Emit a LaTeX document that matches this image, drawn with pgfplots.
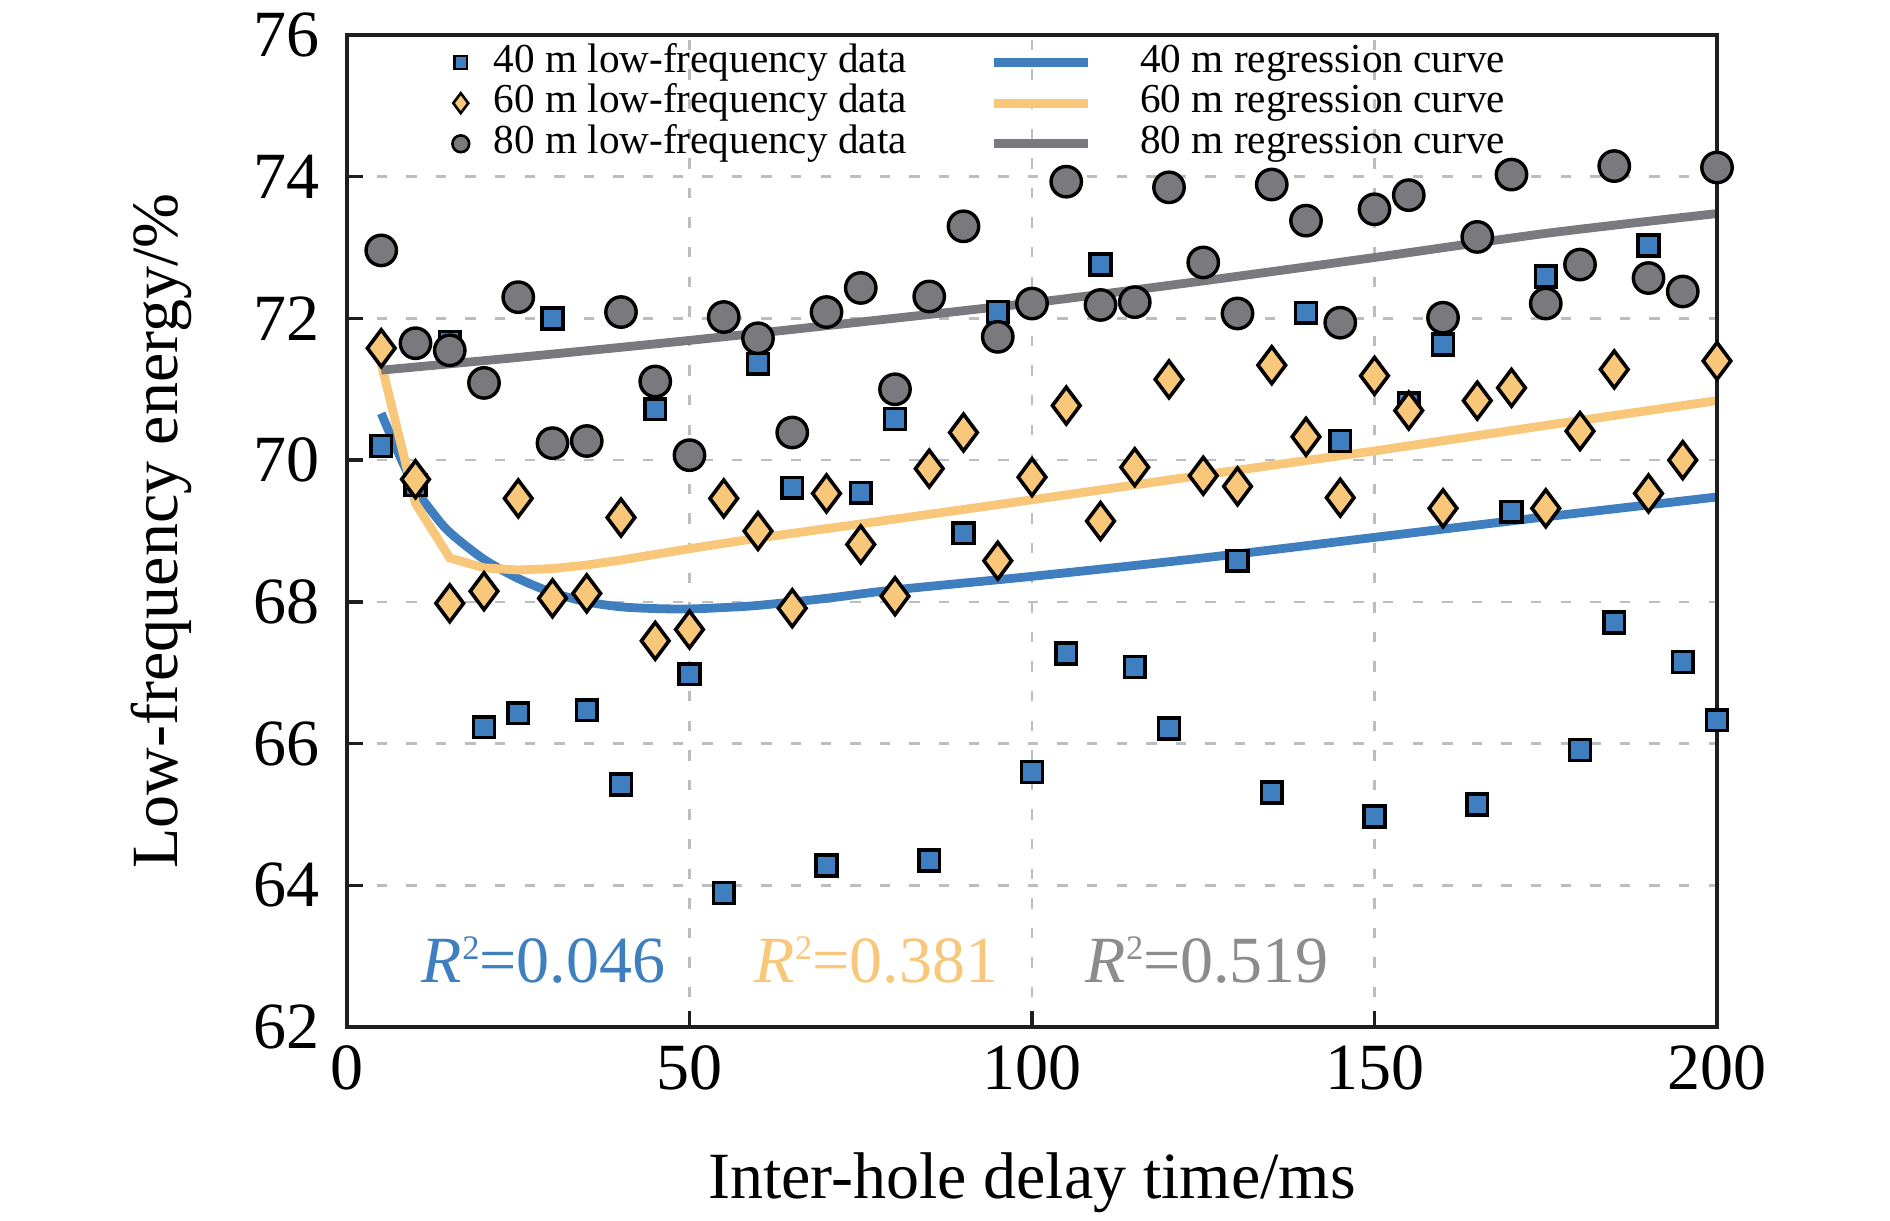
\documentclass[border=0pt]{standalone}
\usepackage{fontspec}
\setmainfont{Liberation Serif}
\usepackage{pgfplots}
\pgfplotsset{compat=1.18}
\definecolor{cblue}{HTML}{3F7FBF}
\definecolor{corange}{HTML}{F8C77A}
\definecolor{cgray}{HTML}{7A7A7E}
\definecolor{cgraytxt}{HTML}{8C8C8C}
\definecolor{cgrid}{HTML}{BDBDBD}
\definecolor{cframe}{HTML}{1E1E1E}
\pgfplotsset{
  markleg/.style={legend image code/.code={\draw[##1, /tikz/only marks] plot coordinates {(0pt,0pt)}; \path[draw=none, fill=none] (-3pt,0pt) -- (6.25pt,0pt);}},
  lineleg/.style={legend image code/.code={\draw[##1] (0pt,0pt) -- (23.5pt,0pt); \path[draw=none, fill=none] (23.5pt,0pt) -- (34.5pt,0pt);}},
}
\begin{document}
\begin{tikzpicture}
\begin{axis}[
  scale only axis, width=342.5pt, height=248pt,
  at={(0,0)}, anchor=south west,
  xmin=0, xmax=200, ymin=62, ymax=76,
  xtick={0,50,100,150,200}, ytick={62,64,66,68,70,72,74,76},
  clip=false,
  axis line style={cframe, line width=0.85pt},
  tick style={cframe, line width=0.85pt},
  major tick length=4pt,
  tick align=inside,
  tick pos=left,
  grid=major,
  major grid style={cgrid, line width=0.65pt, dash pattern=on 2.6pt off 4.8pt},
  /pgf/number format/assume math mode=true,
  tick label style={font=\fontsize{16.5}{19}\selectfont, text=black},
  yticklabel style={xshift=-3.25pt},
  xticklabel style={yshift=-1pt},
  xlabel={Inter-hole delay time/ms},
  ylabel={Low-frequency energy/\%},
  label style={font=\fontsize{16.5}{19}\selectfont},
  xlabel style={at={(axis description cs:0.5,-0.17238)}, anchor=base},
  ylabel style={at={(axis description cs:-0.12336,0.5)}, anchor=base},
  legend columns=2,
  legend cell align=left,
  legend style={draw=none, fill=none, inner sep=0pt,
    at={(axis description cs:0.07372,0.99153)}, anchor=north west,
    font=\fontsize{10.3}{12}\selectfont,
    nodes={inner xsep=2pt, inner ysep=0pt, text height=7pt, text depth=2.2pt},
    row sep=0.95pt,
    /tikz/every even column/.append style={column sep=18.7pt}},
]
% regression curves
\addplot[cblue, line width=2.2pt, smooth, forget plot] coordinates {
 (5,70.66) (7.5,70.1) (10,69.6) (12.5,69.26) (15,68.98) (20,68.6) (25,68.33)
 (30,68.13) (35,68.0) (40,67.93) (45,67.905) (50,67.9) (55,67.92) (60,67.95)
 (70,68.05) (80,68.17) (100,68.36) (125,68.62) (150,68.91) (175,69.2) (200,69.48)};
\addplot[corange, line width=2.2pt, forget plot] coordinates {
 (5,71.36) (10,69.39) (15,68.62) (20,68.48) (25,68.45) (30,68.47) (35,68.52)
 (40,68.59) (45,68.67) (50,68.75) (60,68.9) (75,69.1) (100,69.44) (125,69.79)
 (150,70.13) (175,70.49) (200,70.84)};
\addplot[cgray, line width=2.2pt, smooth, forget plot] coordinates {
 (5,71.27) (25,71.45) (50,71.69) (75,71.95) (100,72.22) (125,72.53) (150,72.86)
 (175,73.2) (200,73.48)};
% 40 m data
\addplot[only marks, mark=square*, mark size=2.6pt,
  mark options={fill=cblue, draw=black, line width=0.9pt}, forget plot] coordinates {
 (5,70.2) (10,69.65) (15,71.67) (20,66.23) (25,66.43) (30,72.0) (35,66.47) (40,65.42)
 (45,70.72) (50,66.98) (55,63.89) (60,71.36) (65,69.61) (70,64.28) (75,69.54) (80,70.58)
 (85,64.35) (90,68.97) (95,72.09) (100,65.6) (105,67.27) (110,72.76) (115,67.08) (120,66.21)
 (130,68.58) (135,65.31) (140,72.08) (145,70.27) (150,64.97) (155,70.8) (160,71.63)
 (165,65.14) (170,69.27) (175,72.59) (180,65.91) (185,67.71) (190,73.03) (195,67.15) (200,66.33)};
% 60 m data
\addplot[only marks, mark=diamond*, mark size=4.6pt,
  mark options={fill=corange, draw=black, line width=0.9pt}, forget plot] coordinates {
 (5,71.58) (10,69.73) (15,67.98) (20,68.15) (25,69.46) (30,68.05) (35,68.12) (40,69.19)
 (45,67.45) (50,67.61) (55,69.46) (60,69.0) (65,67.91) (70,69.53) (75,68.81) (80,68.08)
 (85,69.88) (90,70.39) (95,68.58) (100,69.76) (105,70.77) (110,69.14) (115,69.9) (120,71.14)
 (125,69.78) (130,69.63) (135,71.34) (140,70.33) (145,69.47) (150,71.19) (155,70.7)
 (160,69.32) (165,70.84) (170,71.02) (175,69.32) (180,70.41) (185,71.28) (190,69.53)
 (195,70.0) (200,71.4)};
% 80 m data
\addplot[only marks, mark=*, mark size=3.8pt,
  mark options={fill=cgray, draw=black, line width=0.85pt}, forget plot] coordinates {
 (5,72.96) (10,71.65) (15,71.55) (20,71.09) (25,72.3) (30,70.24) (35,70.27) (40,72.09)
 (45,71.11) (50,70.07) (55,72.02) (60,71.72) (65,70.39) (70,72.09) (75,72.43) (80,71.0)
 (85,72.31) (90,73.3) (95,71.74) (100,72.21) (105,73.93) (110,72.19) (115,72.23) (120,73.85)
 (125,72.79) (130,72.07) (135,73.89) (140,73.38) (145,71.94) (150,73.54) (155,73.74)
 (160,72.01) (165,73.15) (170,74.03) (175,72.21) (180,72.76) (185,74.15) (190,72.57)
 (195,72.38) (200,74.13)};
% legend (row-wise: data | curve)
\addlegendimage{only marks, mark=square*, mark size=1.6pt, mark options={fill=cblue, draw=black, line width=0.65pt}, markleg}
\addlegendentry{40 m low-frequency data}
\addlegendimage{cblue, line width=2.3pt, lineleg}
\addlegendentry{40 m regression curve}
\addlegendimage{only marks, mark=diamond*, mark size=2.5pt, mark options={fill=corange, draw=black, line width=0.65pt}, markleg}
\addlegendentry{60 m low-frequency data}
\addlegendimage{corange, line width=2.3pt, lineleg}
\addlegendentry{60 m regression curve}
\addlegendimage{only marks, mark=*, mark size=2.1pt, mark options={fill=cgray, draw=black, line width=0.65pt}, markleg}
\addlegendentry{80 m low-frequency data}
\addlegendimage{cgray, line width=2.3pt, lineleg}
\addlegendentry{80 m regression curve}
% R^2 labels
\node[anchor=base, text=cblue, font=\fontsize{16.5}{19}\selectfont, inner sep=0pt] at (axis cs:28.7,62.625)
  {\textit{R}\raisebox{5.85pt}{\fontsize{8.6}{10}\selectfont 2}=0.046};
\node[anchor=base, text=corange, font=\fontsize{16.5}{19}\selectfont, inner sep=0pt] at (axis cs:77.3,62.625)
  {\textit{R}\raisebox{5.85pt}{\fontsize{8.6}{10}\selectfont 2}=0.381};
\node[anchor=base, text=cgraytxt, font=\fontsize{16.5}{19}\selectfont, inner sep=0pt] at (axis cs:125.6,62.625)
  {\textit{R}\raisebox{5.85pt}{\fontsize{8.6}{10}\selectfont 2}=0.519};
% frame on top of markers
\draw[cframe, line width=0.85pt] (rel axis cs:0,0) rectangle (rel axis cs:1,1);
\end{axis}
\pgfresetboundingbox
\useasboundingbox (-86.75pt,-48.25pt) rectangle (385.75pt,256.75pt);
\end{tikzpicture}
\end{document}
